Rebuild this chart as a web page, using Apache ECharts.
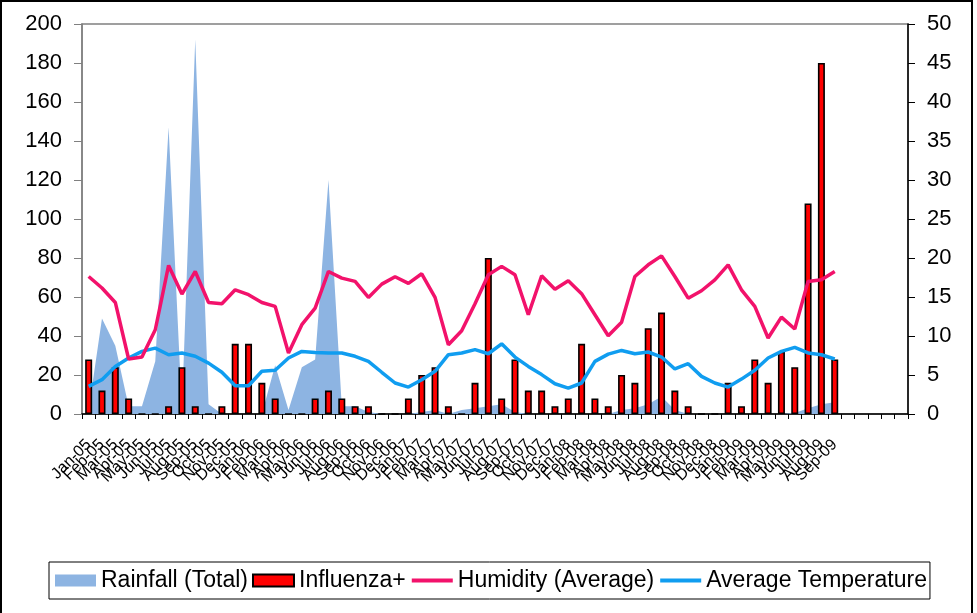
<!DOCTYPE html>
<html>
<head>
<meta charset="utf-8">
<script src="https://cdn.jsdelivr.net/npm/echarts@6/dist/echarts.min.js"></script>
<style>
  html, body { margin: 0; padding: 0; background: #fff; }
  #chart { width: 977px; height: 613px; }
</style>
</head>
<body>
<div id="chart"></div>
<script>
// months Jan-05 .. Sep-09, then empty slots to Feb-10
var months = ['Jan-05','Feb-05','Mar-05','Apr-05','May-05','Jun-05','Jul-05','Aug-05','Sep-05','Oct-05','Nov-05','Dec-05',
    'Jan-06','Feb-06','Mar-06','Apr-06','May-06','Jun-06','Jul-06','Aug-06','Sep-06','Oct-06','Nov-06','Dec-06',
    'Jan-07','Feb-07','Mar-07','Apr-07','May-07','Jun-07','Jul-07','Aug-07','Sep-07','Oct-07','Nov-07','Dec-07',
    'Jan-08','Feb-08','Mar-08','Apr-08','May-08','Jun-08','Jul-08','Aug-08','Sep-08','Oct-08','Nov-08','Dec-08',
    'Jan-09','Feb-09','Mar-09','Apr-09','May-09','Jun-09','Jul-09','Aug-09','Sep-09',
    '','','','',''];

var rainfall = [2, 49, 35, 4, 4, 27, 147, 2, 192, 5, 0, 0,
    0, 0, 25, 2, 24, 28, 120, 4, 4, 1, 0, 0,
    0, 1, 2, 0, 2, 3, 4, 5, 1, 0, 0, 0,
    0, 0, 0, 0, 2, 3, 5, 9, 2, 0, 0, 0,
    0, 0, 0, 0, 0, 0.5, 3, 5, 6];

var influenza = [7, 3, 6, 2, 0, 0, 1, 6, 1, 0, 1, 9,
    9, 4, 2, 0, 0, 2, 3, 2, 1, 1, 0, 0,
    2, 5, 6, 1, 0, 4, 20, 2, 7, 3, 3, 1,
    2, 9, 2, 1, 5, 4, 11, 13, 3, 1, 0, 0,
    4, 1, 7, 4, 8, 6, 27, 45, 7];

var humidity = [70.5, 64.6, 57.2, 28.2, 29.2, 43.2, 76.2, 61.5, 73.1, 57.2, 56.5, 63.7,
    61.2, 57.2, 55.2, 31.3, 45.8, 54.3, 73.1, 69.7, 68, 59.8, 66.6, 70.4,
    67, 71.9, 59.8, 35.5, 42.7, 56.5, 71.4, 75.7, 71.4, 50.9, 70.9, 64,
    68.3, 61.7, 50.9, 40.1, 47, 70.5, 76.5, 81.1, 70.5, 59.4, 63.2, 68.8,
    76.5, 63.7, 55.2, 39, 49.7, 43.6, 68, 68.8, 73.1];

var temperature = [14.2, 17.6, 24.4, 28.7, 32.1, 33.8, 30.4, 31.3, 29.6, 26.1, 21.4, 14.5,
    14.5, 21.9, 22.4, 28.7, 32.1, 31.6, 31.3, 31.3, 29.6, 27, 21.4, 15.9,
    13.8, 17.6, 21.9, 30.4, 31.3, 33, 30.9, 36, 29.2, 24.4, 20.2, 15.5,
    13.3, 15.9, 27, 30.7, 32.6, 30.9, 31.8, 29.2, 23.1, 25.8, 19.3, 15.9,
    13.8, 17.9, 22.4, 28.7, 32.1, 34.2, 31.3, 30.4, 28.2];

var seriesNames = ['Rainfall (Total)', 'Influenza+', 'Humidity (Average)', 'Average Temperature'];

var font = "'Liberation Sans', Arial, sans-serif";

var dom = document.getElementById('chart');
var myChart = echarts.init(dom);
var option = null;

option = {
    animation: false,
    backgroundColor: '#fff',
    textStyle: {fontFamily: font},
    graphic: [{
        type: 'rect',
        shape: {x: 1, y: 1, width: 971, height: 640},
        style: {fill: 'none', stroke: '#000', lineWidth: 2},
        silent: true
    }],
    grid: {
        left: 82,
        right: 69,
        top: 24,
        bottom: 199,
        show: true,
        borderColor: '#808080',
        borderWidth: 1.5
    },
    legend: {
        left: 49,
        top: 562,
        padding: [7, 3, 7, 6],
        borderColor: '#000',
        borderWidth: 1,
        itemWidth: 41,
        itemHeight: 12,
        itemGap: 4,
        textStyle: {fontSize: 23, color: '#000', fontFamily: font},
        data: [
            {name: seriesNames[0], icon: 'rect', itemStyle: {color: '#8DB4E2', borderWidth: 0}},
            {name: seriesNames[1], icon: 'rect'},
            {name: seriesNames[2], itemStyle: {opacity: 0}, lineStyle: {width: 4}},
            {name: seriesNames[3], itemStyle: {opacity: 0}, lineStyle: {width: 4}}
        ]
    },
    xAxis: {
        type: 'category',
        data: months,
        boundaryGap: true,
        axisLine: {lineStyle: {color: '#000', width: 1.5}},
        axisTick: {show: true, length: 5, interval: 0, lineStyle: {color: '#000'}},
        axisLabel: {
            interval: 0,
            rotate: 45,
            margin: 28,
            fontSize: 16,
            color: '#000',
            fontFamily: font
        },
        splitLine: {show: false}
    },
    yAxis: [{
        type: 'value',
        min: 0,
        max: 200,
        interval: 20,
        axisLine: {show: true, lineStyle: {color: '#808080', width: 1.5}},
        axisTick: {show: true, length: 8, lineStyle: {color: '#808080'}},
        axisLabel: {fontSize: 22, color: '#000', margin: 20, fontFamily: font},
        splitLine: {show: false}
    }, {
        type: 'value',
        min: 0,
        max: 50,
        interval: 5,
        position: 'right',
        axisLine: {show: true, lineStyle: {color: '#000', width: 1.5}},
        axisTick: {show: true, length: 7, lineStyle: {color: '#000'}},
        axisLabel: {fontSize: 22, color: '#000', margin: 19, fontFamily: font},
        splitLine: {show: false}
    }],
    series: [{
        name: seriesNames[0],
        type: 'line',
        yAxisIndex: 0,
        data: rainfall,
        symbol: 'none',
        color: '#8DB4E2',
        lineStyle: {width: 0},
        areaStyle: {color: '#8DB4E2', opacity: 1},
        z: 1
    }, {
        name: seriesNames[1],
        type: 'bar',
        yAxisIndex: 1,
        data: influenza,
        barWidth: 7,
        itemStyle: {color: '#FF0000', borderColor: '#000', borderWidth: 1.6},
        z: 2
    }, {
        name: seriesNames[2],
        type: 'line',
        yAxisIndex: 0,
        data: humidity,
        symbol: 'none',
        color: '#F2126B',
        lineStyle: {width: 3.5, color: '#F2126B'},
        z: 4
    }, {
        name: seriesNames[3],
        type: 'line',
        yAxisIndex: 0,
        data: temperature,
        symbol: 'none',
        color: '#109DF0',
        lineStyle: {width: 3.5, color: '#109DF0'},
        z: 3
    }]
};

if (option && typeof option === "object") {
    myChart.setOption(option, true);
}
</script>
</body>
</html>
